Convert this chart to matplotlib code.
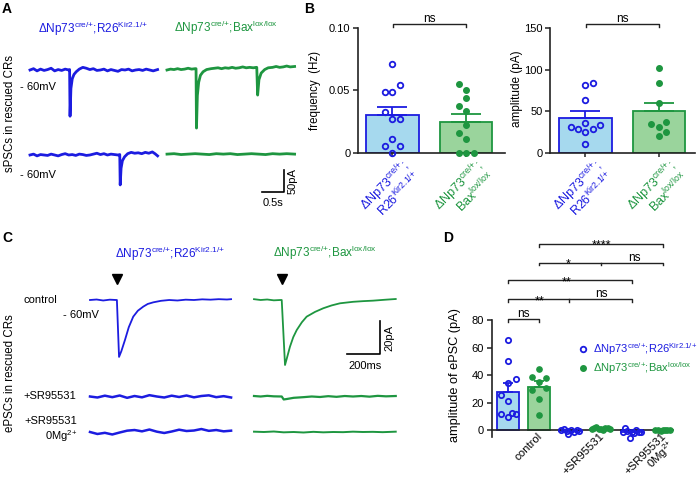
import numpy as np
import matplotlib
matplotlib.use("Agg")
import matplotlib.pyplot as plt

W, H = 698, 486
BLUE = "#1c1ce0"
GREEN = "#1e9640"
LBLUE = "#a6d9ee"
LGREEN = "#9ad49c"
DARK = "#222222"

plt.rcParams["font.family"] = ["Liberation Sans", "DejaVu Sans"]
plt.rcParams["mathtext.fontset"] = "custom"
plt.rcParams["mathtext.rm"] = "Liberation Sans"
plt.rcParams["mathtext.it"] = "Liberation Sans:italic"
plt.rcParams["mathtext.bf"] = "Liberation Sans:bold"
plt.rcParams["mathtext.default"] = "regular"

LAB_BLUE = "ΔNp73$^{cre/{+}}$;R26$^{Kir2.1/{+}}$"
LAB_GREEN = "ΔNp73$^{cre/{+}}$;Bax$^{lox/lox}$"

# ---- A: spontaneous traces (time s, current pA)
blue_top_t = [0.00, 0.08, 0.16, 0.24, 0.32, 0.40, 0.48, 0.56, 0.64, 0.72, 0.80, 0.88,
              0.90, 0.91, 0.93, 0.96, 1.00, 1.05,
              1.12, 1.20, 1.28, 1.36, 1.44, 1.52, 1.60, 1.68, 1.76, 1.84, 1.92, 2.00,
              2.08, 2.16, 2.24, 2.32, 2.40, 2.48, 2.56, 2.64, 2.72, 2.80, 2.90]
blue_top_i = [0, 3, -2, 2, -1, 1, 4, -2, 1, -1, 2, 0,
              1, -105, -42, -20, -10, -4,
              2, 6, 4, 1, 3, -1, 0, 2, -2, 1, -1, -3,
              1, 0, 2, -2, 0, 1, -1, 2, 0, -2, 1]
green_top_t = [0.00, 0.08, 0.16, 0.24, 0.32, 0.40, 0.48, 0.56, 0.64,
               0.66, 0.67, 0.69, 0.72, 0.76, 0.82, 0.90,
               1.00, 1.08, 1.16, 1.24, 1.32, 1.40, 1.48, 1.56, 1.64, 1.72, 1.80, 1.88, 1.96,
               2.03, 2.04, 2.06, 2.09, 2.14, 2.22, 2.30,
               2.40, 2.48, 2.56, 2.64, 2.72, 2.80, 2.90]
green_top_i = [-4, -2, -3, -1, -3, -2, 0, -2, -1,
               -1, -136, -62, -32, -16, -8, -3,
               -1, 0, 1, -1, 1, 0, 2, 0, 1, 3, 1, 2, 1,
               2, 2, -61, -26, -11, -3, 1,
               2, 4, 2, 3, 5, 3, 4]
blue_bot_t = [0.00, 0.08, 0.16, 0.24, 0.32, 0.40, 0.48, 0.56, 0.64, 0.72, 0.80, 0.88,
              0.96, 1.04, 1.12, 1.20, 1.28, 1.36, 1.44, 1.52, 1.60, 1.68, 1.76, 1.84, 1.92,
              2.00, 2.04, 2.05, 2.07, 2.10, 2.15,
              2.22, 2.30, 2.38, 2.46, 2.54, 2.62, 2.70, 2.78, 2.84, 2.90]
blue_bot_i = [0, 2, -2, 1, 0, -1, 2, 0, -2, 1, 3, 0,
              1, -1, 2, 1, -1, 0, 2, 4, 1, 3, 0, 2, 1,
              0, 1, -68, -30, -13, -4,
              3, 6, 4, 5, 3, 6, 4, 7, 3, -2]
green_bot_t = [0.00, 0.16, 0.32, 0.48, 0.64, 0.80, 0.96, 1.12, 1.28, 1.44, 1.60, 1.76,
               1.92, 2.08, 2.24, 2.40, 2.56, 2.72, 2.90]
green_bot_i = [0, 1, -1, 0, 1, 0, -1, 1, 0, 1, -1, 0, 1, 0, -1, 1, 0, 1, 0]

# ---- B: frequency and amplitude
freq_blue = [0.071, 0.049, 0.049, 0.0547, 0.0327, 0.0273, 0.0273, 0.0107, 0.0056, 0.0056, 0.0]
freq_blue_slot = [0, -1, 0, 1, -1, 0, 1, 0, -1, 1, 0]
freq_green = [0.055, 0.0504, 0.0442, 0.0378, 0.0332, 0.022, 0.016, 0.011, 0.0, 0.0, 0.0]
freq_green_slot = [-1, 0, 0, -1, 0, 0, -1, 0, -1, 0, 1]
freq_mean = [0.0303, 0.0247]
freq_sem = [0.0067, 0.0061]

amp_blue = [81.6, 84.0, 63.1, 31.0, 28.2, 24.5, 28.2, 33.0, 35.4, 10.5]
amp_blue_slot = [0, 1, 0, -2, -1, 0, 1, 2, 0, 0]
amp_green = [102.1, 84.0, 59.9, 34.6, 37.0, 30.6, 25.3, 19.7]
amp_green_slot = [0, 0, 0, -1, 1, 0, 1, 0]
amp_mean = [42.2, 49.9]
amp_sem = [8.1, 10.4]

# ---- C: evoked traces (time ms, current pA)
stim_blue, stim_green = 163, 168
c_blue_ctrl_t = [0, 40, 80, 120, 160, 163, 176, 190, 212, 235, 262, 290, 323, 350, 384,
                 430, 480, 530, 580, 630, 680, 730, 780, 830, 855]
c_blue_ctrl_i = [0, 0.3, -0.3, 0.2, 0, 0, -34.5, -31, -24.2, -16.5, -10.1, -6.5, -4.0, -2.4, -1.4,
                 -0.5, 0, -0.3, 0.2, 0, 0.4, 0.2, 0.5, 0.3, 0.5]
c_green_ctrl_t = [0, 40, 80, 120, 160, 168, 188, 200, 218, 238, 259, 290, 319, 370, 420,
                  470, 521, 600, 660, 721, 800, 859]
c_green_ctrl_i = [0.5, 0, 0.3, -0.2, 0, 0, -39.4, -35, -28.3, -22.5, -18.2, -13.5, -10.1, -7.2, -5.0,
                  -3.3, -2.0, -1.1, -0.7, -0.4, 0.2, 0.6]
c_blue_sr_t = [0, 45, 90, 135, 180, 225, 270, 315, 360, 405, 450, 495, 540, 585, 630,
               675, 720, 765, 810, 855]
c_blue_sr_i = [0, -0.6, 0.5, -0.4, 0.6, -0.8, 0.3, -0.5, 0.8, 0, -0.6, 0.5, -0.3, 0.6, -0.5,
               0.3, 0.7, -0.4, 0.2, -0.6]
c_green_sr_t = [0, 40, 80, 120, 168, 180, 200, 240, 300, 350, 400, 450, 500, 550, 600,
                650, 700, 750, 800, 859]
c_green_sr_i = [0.3, 0, 0.4, 0.1, 0, -1.8, -1.5, -0.8, -0.4, 0, -0.3, 0.2, -0.2, 0.3, 0,
                0.3, -0.1, 0.4, 0.1, 0.3]
c_blue_mg_t = [0, 45, 90, 135, 180, 225, 270, 315, 360, 405, 450, 495, 540, 585, 630,
               675, 720, 765, 810, 855]
c_blue_mg_i = [0, -1.2, -0.5, -1.5, -0.3, 0.8, 1.2, 0.4, 1.5, 0.2, -0.6, 0.3, 1.4, 0.6, 0.9,
               1.8, 0.7, 1.2, 0.4, 0.8]
c_green_mg_t = [0, 60, 120, 180, 240, 300, 360, 420, 480, 540, 600, 660, 720, 780, 859]
c_green_mg_i = [0.2, 0, 0.3, -0.2, 0, -0.3, 0.1, -0.2, 0, -0.1, 0.2, 0, 0.1, -0.1, 0.2]

# ---- D: ePSC amplitudes
conditions = ["control", "+SR95531", "+SR95531\n0Mg$^{2{+}}$"]
ctrl_blue = [65.5, 50.1, 37.1, 34.2, 25.7, 21.5, 11.7, 9.8, 12.2, 11.7]
ctrl_blue_slot = [0, 0, 1, 0, -1, 0, -1, 0, 0.5, 1]
ctrl_green = [44.5, 38.4, 37.9, 34.7, 30.5, 29.3, 22.7, 11.0]
ctrl_green_slot = [0, -1, 1, 0, 1, -1, 0, 0]
sr_blue = [0.3, 0.8, -0.5, -3.0, 0.0, -1.5, 0.5, -0.8]
sr_blue_slot = [-1.2, -0.8, -0.4, -0.2, 0.2, 0.6, 0.9, 1.2]
sr_green = [1.0, 1.5, 2.5, 0.8, 1.2, 0.5, 1.8, 2.0, 1.0]
sr_green_slot = [-1.2, -0.9, -0.6, -0.3, 0, 0.3, 0.6, 0.9, 1.2]
mg_blue = [-1.0, 1.5, -0.5, -5.5, -1.2, -2.0, 0.0, -1.5, -1.0]
mg_blue_slot = [-1.2, -0.9, -0.6, -0.2, 0, 0.3, 0.6, 0.9, 1.2]
mg_green = [0.0, 0.3, -0.2, 0.0, 0.2, -0.1, 0.1]
mg_green_slot = [-1.0, -0.6, -0.3, 0, 0.3, 0.6, 1.0]
epsc_mean = [28.0, 31.3, -0.5, 1.2, -1.2, 0.0]
epsc_sem = [6.2, 4.1, 0.4, 0.2, 0.6, 0.1]

fig = plt.figure(figsize=(W / 100, H / 100), dpi=100)


def axpx(x0, y0, x1, y1):
    return fig.add_axes([x0 / W, 1 - y1 / H, (x1 - x0) / W, (y1 - y0) / H])


def style(ax):
    for s in ["top", "right"]:
        ax.spines[s].set_visible(False)
    for s in ["left", "bottom"]:
        ax.spines[s].set_linewidth(1.2)
        ax.spines[s].set_color(DARK)
    ax.tick_params(direction="out", length=3.5, width=1.1, labelsize=8, pad=2, color=DARK)


# ---------------- panel A traces
axA = axpx(28, 40, 300, 210)
axA.set_xlim(-2 / 44, 270 / 44)
axA.set_ylim(-140 / 0.44, 30 / 0.44)
axA.axis("off")
A_GREEN_SHIFT = 137 / 44
A_ROW2 = -85 / 0.44
axA.plot(blue_top_t, blue_top_i, color=BLUE, lw=2.0)
axA.plot(np.array(green_top_t) + A_GREEN_SHIFT, np.array(green_top_i) + 4, color=GREEN, lw=2.0)
axA.plot(blue_bot_t, np.array(blue_bot_i) + A_ROW2, color=BLUE, lw=2.0)
axA.plot(np.array(green_bot_t) + A_GREEN_SHIFT, np.array(green_bot_i) + A_ROW2 + 2, color=GREEN, lw=2.0)
# scale bar 0.5 s / 50 pA
axA.plot([5.27, 5.77, 5.77], [-277, -277, -227], color="k", lw=1.2)

# ---------------- panel C traces
axC = axpx(85, 265, 400, 445)
axC.set_xlim(-5 / 0.165, 310 / 0.165)
axC.set_ylim(-145 / 1.65, 35 / 1.65)
axC.axis("off")
C_GREEN_SHIFT = 164 / 0.165
C_SR = -96.5 / 1.65
C_MG = -132 / 1.65
axC.plot(c_blue_ctrl_t, c_blue_ctrl_i, color=BLUE, lw=1.3)
axC.plot(np.array(c_green_ctrl_t) + C_GREEN_SHIFT, c_green_ctrl_i, color=GREEN, lw=1.3)
axC.plot(c_blue_sr_t, np.array(c_blue_sr_i) + C_SR, color=BLUE, lw=1.8)
axC.plot(np.array(c_green_sr_t) + C_GREEN_SHIFT, np.array(c_green_sr_i) + C_SR, color=GREEN, lw=1.6)
axC.plot(c_blue_mg_t, np.array(c_blue_mg_i) + C_MG, color=BLUE, lw=1.8)
axC.plot(np.array(c_green_mg_t) + C_GREEN_SHIFT, np.array(c_green_mg_i) + C_MG, color=GREEN, lw=1.4)
axC.plot([stim_blue, stim_green + C_GREEN_SHIFT], [12.7, 12.7], "v", color="k", ms=7, clip_on=False)
# scale bar 200 ms / 20 pA
axC.plot([1557.6, 1757.6, 1757.6], [-32.9, -32.9, -12.9], color="k", lw=1.2)

# ---------------- panel B bars
DX_B = 0.102
for mean, sem, blue, bslot, green, gslot, top, ticks, tlabels, box in [
        (freq_mean, freq_sem, freq_blue, freq_blue_slot, freq_green, freq_green_slot,
         0.10, [0, 0.05, 0.10], ["0", "0.05", "0.10"], (358, 505, -0.469, 1.53)),
        (amp_mean, amp_sem, amp_blue, amp_blue_slot, amp_green, amp_green_slot,
         150, [0, 50, 100, 150], ["0", "50", "100", "150"], (550, 695, -0.483, 1.49))]:
    ax = axpx(box[0], 28.3, box[1], 152.7)
    style(ax)
    ax.set_xlim(box[2], box[3])
    ax.set_ylim(0, top)
    ax.set_yticks(ticks)
    ax.set_yticklabels(tlabels)
    ax.set_xticks([0, 1])
    ax.set_xticklabels(["", ""])
    ax.tick_params(axis="x", length=3)
    ax.bar([0, 1], mean, width=0.71, color=[LBLUE, LGREEN], edgecolor=[BLUE, GREEN],
           linewidth=1.3, zorder=1)
    for i, c in enumerate([BLUE, GREEN]):
        ax.errorbar(i, mean[i], yerr=[[0], [sem[i]]], color=c, capsize=11, lw=1.3,
                    capthick=1.3, zorder=2)
    ax.plot(np.array(bslot) * DX_B, blue, "o", mfc="none", mec=BLUE, mew=1.3, ms=4,
            clip_on=False, zorder=3)
    ax.plot(1 + np.array(gslot) * DX_B, green, "o", color=GREEN, ms=4, clip_on=False, zorder=3)
    for i, (lab, c) in enumerate([(LAB_BLUE.replace(";", ";\n"), BLUE),
                                  (LAB_GREEN.replace(";", ";\n"), GREEN)]):
        ax.annotate(lab, xy=(i, 0), xycoords=("data", "axes fraction"), xytext=(6, -3),
                    textcoords="offset points", rotation=45, ha="right", va="top",
                    rotation_mode="anchor", color=c, fontsize=9, linespacing=0.8)

# ---------------- panel D bars
axD = axpx(491.7, 320, 673, 436.7)
style(axD)
axD.set_xlim(-0.53, 5.33)
axD.set_ylim(-4.64, 80)
axD.spines["bottom"].set_position(("data", 0))
axD.set_yticks([0, 20, 40, 60, 80])
axD.set_xticks([])
DX_D = 0.24
pos = np.arange(6)
axD.bar(pos, epsc_mean, width=0.69, color=[LBLUE, LGREEN] * 3, edgecolor=[BLUE, GREEN] * 3,
        linewidth=1.3, zorder=1)
for i in range(6):
    c = BLUE if i % 2 == 0 else GREEN
    axD.errorbar(pos[i], epsc_mean[i], yerr=[[0], [epsc_sem[i]]], color=c, capsize=3.4,
                 lw=1.3, capthick=1.3, zorder=2)
for p, vals, slots in [(0, ctrl_blue, ctrl_blue_slot), (2, sr_blue, sr_blue_slot),
                       (4, mg_blue, mg_blue_slot)]:
    axD.plot(p + np.array(slots) * DX_D, vals, "o", mfc="none", mec=BLUE, mew=1.3, ms=3.8,
             clip_on=False, zorder=3)
for p, vals, slots in [(1, ctrl_green, ctrl_green_slot), (3, sr_green, sr_green_slot),
                       (5, mg_green, mg_green_slot)]:
    axD.plot(p + np.array(slots) * DX_D, vals, "o", color=GREEN, ms=3.8, clip_on=False, zorder=3)
for k, lab in enumerate(conditions):
    axD.annotate(lab, xy=(2 * k + 0.5, 0), xycoords=("data", "axes fraction"), xytext=(10, 4),
                 textcoords="offset points", rotation=45, ha="right", va="top",
                 rotation_mode="anchor", fontsize=8.2, linespacing=0.9)

# ---------------- overlay in pixel units for labels, brackets
ov = fig.add_axes([0, 0, 1, 1])
ov.set_xlim(0, W)
ov.set_ylim(H, 0)
ov.axis("off")


def t(x, y, s, **kw):
    kw.setdefault("fontsize", 8)
    ov.text(x, y, s, **kw)


for x, y, s in [(2, 9, "A"), (304, 9, "B"), (2, 238, "C"), (443, 238, "D")]:
    t(x, y, s, fontsize=10, fontweight="bold", va="center")

t(93, 33, LAB_BLUE, color=BLUE, ha="center", va="baseline", fontsize=8.5)
t(226, 32, LAB_GREEN, color=GREEN, ha="center", va="baseline", fontsize=8.5)
t(20, 87, "- 60mV", va="center")
t(20, 175, "- 60mV", va="center")
t(10, 113, "sPSCs in rescued CRs", rotation=90, ha="center", va="center", fontsize=8.3)
t(293, 181, "50pA", rotation=90, ha="center", va="center")
t(273, 203, "0.5s", ha="center", va="center")

t(170, 258, LAB_BLUE, color=BLUE, ha="center", va="baseline", fontsize=8.5)
t(325, 257, LAB_GREEN, color=GREEN, ha="center", va="baseline", fontsize=8.5)
t(23, 300, "control", va="center")
t(63, 315, "- 60mV", va="center")
t(23, 396, "+SR95531", va="center")
t(77, 430, "+SR95531\n0Mg$^{2{+}}$", ha="right", va="center", multialignment="right")
t(10, 373, "ePSCs in rescued CRs", rotation=90, ha="center", va="center", fontsize=8.3)
t(389, 338, "20pA", rotation=90, ha="center", va="center")
t(365, 366, "200ms", ha="center", va="center")

t(315, 91, "frequency  (Hz)", rotation=90, ha="center", va="center", fontsize=8.3)
t(517, 89, "amplitude (pA)", rotation=90, ha="center", va="center", fontsize=8.5)
t(455, 375, "amplitude of ePSC (pA)", rotation=90, ha="center", va="center", fontsize=9.2)


def bracket(x0, x1, y, mids=(), h=2.5):
    ov.plot([x0, x0, x1, x1], [y + h, y, y, y + h], color=DARK, lw=1.0)
    for m in mids:
        ov.plot([m, m], [y, y + h], color=DARK, lw=1.0)


bracket(392.5, 466, 24.5)
t(429, 22.5, "ns", ha="center", va="baseline", fontsize=8.5)
bracket(585.5, 659, 24.5)
t(622, 22.5, "ns", ha="center", va="baseline", fontsize=8.5)

bracket(508, 538.5, 319.3)
t(523, 317, "ns", ha="center", va="baseline", fontsize=8.5)
bracket(508, 632, 299.3, mids=(569,))
t(540, 304, "**", ha="center", va="baseline", fontsize=9)
t(601, 297, "ns", ha="center", va="baseline", fontsize=8.5)
bracket(508, 632, 280)
t(567, 285, "**", ha="center", va="baseline", fontsize=9)
bracket(538.5, 662.7, 262.7, mids=(600.5,))
t(568, 267, "*", ha="center", va="baseline", fontsize=9)
t(634, 260.5, "ns", ha="center", va="baseline", fontsize=8.5)
bracket(538.5, 662.7, 244)
t(601, 248.5, "****", ha="center", va="baseline", fontsize=9)

ov.plot([583.3], [349.3], "o", mfc="none", mec=BLUE, mew=1.3, ms=4)
ov.plot([583.3], [368.3], "o", color=GREEN, ms=4)
t(593, 349.3, LAB_BLUE, color=BLUE, va="center")
t(593, 368.3, LAB_GREEN, color=GREEN, va="center")

fig.savefig("out.png", dpi=100)
